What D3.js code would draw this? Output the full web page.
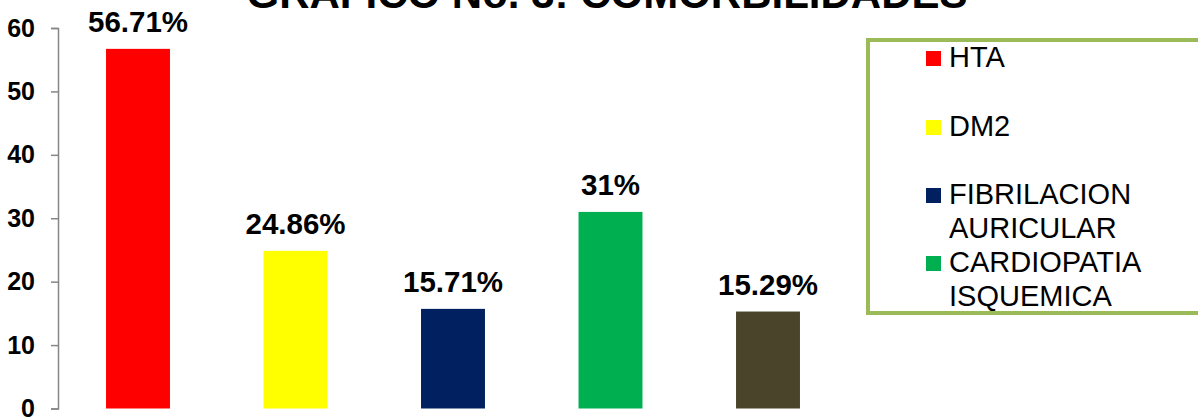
<!DOCTYPE html>
<html>
<head>
<meta charset="utf-8">
<script src="https://cdn.jsdelivr.net/npm/d3@7"></script>
<style>
  html, body { margin: 0; padding: 0; background: #fff; }
  svg { display: block; font-family: "Liberation Sans", Arial, sans-serif; }
</style>
</head>
<body>
<svg id="chart" width="1198" height="417"></svg>
<script>
const categories = ["HTA", "DM2", "FIBRILACION AURICULAR", "CARDIOPATIA ISQUEMICA", "OTRAS"];
const values = [56.71, 24.86, 15.71, 31, 15.29];
const valueLabels = ["56.71%", "24.86%", "15.71%", "31%", "15.29%"];
const colors = ["#FF0000", "#FFFF00", "#002060", "#00B050", "#4A452A"];
const yTicks = [0, 10, 20, 30, 40, 50, 60];
const legendItems = [["HTA"], ["DM2"], ["FIBRILACION", "AURICULAR"], ["CARDIOPATIA", "ISQUEMICA"]];
const legendColors = ["#FF0000", "#FFFF00", "#002060", "#00B050"];
const title = "GRAFICO No. 3: COMORBILIDADES";

const svg = d3.select("#chart");

const x = d3.scaleBand().domain(categories).range([59.25, 846.75]).paddingInner(0.594).paddingOuter(0.297);
const y = d3.scaleLinear().domain([0, 60]).range([408.5, 28]);

// title
svg.append("text")
  .attr("x", 607).attr("y", 8)
  .attr("text-anchor", "middle")
  .attr("font-size", 42).attr("font-weight", "bold")
  .attr("fill", "#000")
  .text(title);

// y axis
const yAxis = d3.axisLeft(y).tickValues(yTicks).tickSize(7).tickPadding(16).tickFormat(d3.format("d"));
const gy = svg.append("g").attr("transform", "translate(58,0)").call(yAxis);
gy.select(".domain").attr("stroke", "#868686").attr("stroke-width", 1.5);
gy.selectAll(".tick line").attr("stroke", "#868686").attr("stroke-width", 1.5);
gy.selectAll(".tick text")
  .attr("font-size", 25).attr("font-weight", "bold").attr("fill", "#000")
  .attr("font-family", "Liberation Sans, Arial, sans-serif");

// bars
svg.selectAll("rect.bar").data(categories).enter().append("rect")
  .attr("class", "bar")
  .attr("x", d => x(d))
  .attr("y", (d, i) => y(values[i]))
  .attr("width", x.bandwidth())
  .attr("height", (d, i) => y(0) - y(values[i]))
  .attr("fill", (d, i) => colors[i]);

// value labels
svg.selectAll("text.val").data(categories).enter().append("text")
  .attr("class", "val")
  .attr("x", d => x(d) + x.bandwidth() / 2)
  .attr("y", (d, i) => y(values[i]) - 17)
  .attr("text-anchor", "middle")
  .attr("font-size", 29.5).attr("font-weight", "bold").attr("fill", "#000")
  .text((d, i) => valueLabels[i]);

// legend
const lg = svg.append("g");
lg.append("rect")
  .attr("x", 868).attr("y", 40)
  .attr("width", 340).attr("height", 273)
  .attr("fill", "#fff")
  .attr("stroke", "#9BBB59").attr("stroke-width", 4);

const itemBaselines = [67, 136, 204, 272];
legendItems.forEach((lines, i) => {
  const b = itemBaselines[i];
  lg.append("rect")
    .attr("x", 926).attr("y", b - 16)
    .attr("width", 15).attr("height", 15)
    .attr("fill", legendColors[i]);
  lines.forEach((t, j) => {
    lg.append("text")
      .attr("x", 949).attr("y", b + j * 33.5)
      .attr("font-size", 29).attr("fill", "#000")
      .text(t);
  });
});
</script>
</body>
</html>
